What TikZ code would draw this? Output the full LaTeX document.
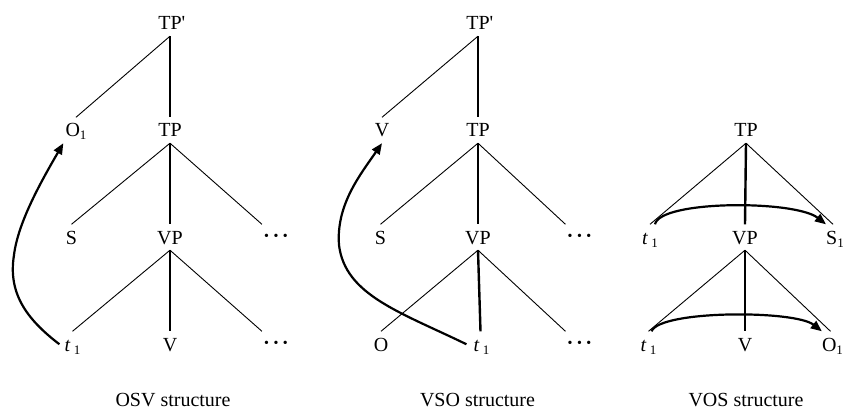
\documentclass[tikz,border=0pt]{standalone}
\usepackage{fontspec}
\setmainfont{Liberation Serif}
\usetikzlibrary{arrows.meta}
% lowered subscript "1"
\newcommand\lowone{\raisebox{-3pt}{\fontsize{13}{13}\selectfont 1}}
\newcommand\trace{\textit{t}\,\lowone}
% three spaced heavy dots
\newcommand\heavydots{\raisebox{4pt}{\fontsize{14}{14}\selectfont\textbullet\hspace{4.5pt}\textbullet\hspace{4.5pt}\textbullet}}
\begin{document}
\begin{tikzpicture}[x=1pt,y=-1pt,
  lbl/.style={font=\fontsize{20}{24}\selectfont, text height=13.5pt, text depth=0pt,
              inner xsep=2pt, inner ysep=6pt, anchor=base},
  caption/.style={font=\fontsize{20}{24}\selectfont, anchor=base, inner sep=0pt},
  branch/.style={line width=0.9pt},
  stem/.style={line width=2.4pt},
  move/.style={line width=2.2pt, -{Triangle[length=11pt,width=9pt]}}]
\useasboundingbox (0,0) rectangle (844,409);

% ---------- OSV ----------
\node[lbl] (a-tpp) at (170,30)  {TP\rlap{\textquotesingle}};
\node[lbl] (a-o)   at (76,137)  {O\lowone};
\node[lbl] (a-tp)  at (170,137) {TP};
\node[lbl] (a-s)   at (71.5,244) {S};
\node[lbl] (a-vp)  at (170,244) {VP};
\node[lbl] (a-d1)  at (276,244) {\heavydots};
\node[lbl] (a-t)   at (72.5,351) {\trace};
\node[lbl] (a-v)   at (170,351) {V};
\node[lbl] (a-d2)  at (276,351) {\heavydots};
\node[caption] (a-cap) at (173,406) {OSV structure};

\draw[branch] (a-tpp.south) -- (a-o.north);
\draw[stem]   (a-tpp.south) -- (a-tp.north);
\draw[branch] (a-tp.south) -- (a-s.north);
\draw[stem]   (a-tp.south) -- (a-vp.north);
\draw[branch] (a-tp.south) -- (a-d1.north west);
\draw[branch] (a-vp.south) -- (a-t.north);
\draw[stem]   (a-vp.south) -- (a-v.north);
\draw[branch] (a-vp.south) -- (a-d2.north west);
\draw[move] ([xshift=-3pt]a-t.west) .. controls (25,318) and (8,292) .. (14,255)
            .. controls (18,222) and (42,180) .. (a-o.south west);

% ---------- VSO ----------
\node[lbl] (b-tpp) at (478,30)  {TP\rlap{\textquotesingle}};
\node[lbl] (b-v)   at (382,137) {V};
\node[lbl] (b-tp)  at (478,137) {TP};
\node[lbl] (b-s)   at (380.5,244) {S};
\node[lbl] (b-vp)  at (478,244) {VP};
\node[lbl] (b-d1)  at (579.5,244) {\heavydots};
\node[lbl] (b-o)   at (381,351) {O};
\node[lbl] (b-t)   at (481.5,351) {\trace};
\node[lbl] (b-d2)  at (579.5,351) {\heavydots};
\node[caption] (b-cap) at (477.5,406) {VSO structure};

\draw[branch] (b-tpp.south) -- (b-v.north);
\draw[stem]   (b-tpp.south) -- (b-tp.north);
\draw[branch] (b-tp.south) -- (b-s.north);
\draw[stem]   (b-tp.south) -- (b-vp.north);
\draw[branch] (b-tp.south) -- (b-d1.north west);
\draw[branch] (b-vp.south) -- (b-o.north);
\draw[stem]   (b-vp.south) -- ([xshift=-1pt]b-t.north);
\draw[branch] (b-vp.south) -- (b-d2.north west);
\draw[move] ([xshift=-5pt]b-t.west) .. controls (400,312) and (345,295) .. (339,245)
            .. controls (336,205) and (360,175) .. (b-v.south);

% ---------- VOS ----------
\node[lbl] (c-tp)  at (746,137) {TP};
\node[lbl] (c-t1)  at (650,244) {\trace};
\node[lbl] (c-vp)  at (745,244) {VP};
\node[lbl] (c-s)   at (835,244) {S\lowone};
\node[lbl] (c-t2)  at (648.5,351) {\trace};
\node[lbl] (c-v)   at (745,351) {V};
\node[lbl] (c-o)   at (832.5,351) {O\lowone};
\node[caption] (c-cap) at (746,406) {VOS structure};

\draw[branch] (c-tp.south) -- (c-t1.north);
\draw[stem]   (c-tp.south) -- (c-vp.north);
\draw[branch] (c-tp.south) -- ([xshift=-2pt]c-s.north);
\draw[branch] (c-vp.south) -- (c-t2.north);
\draw[stem]   (c-vp.south) -- (c-v.north);
\draw[branch] (c-vp.south) -- ([xshift=-2pt]c-o.north);
\draw[move] ([xshift=5pt]c-t1.north) .. controls (660,200) and (795,200) .. ([xshift=2pt]c-s.north west);
\draw[move] ([xshift=3pt]c-t2.north) .. controls (660,310) and (795,310) .. ([xshift=2pt]c-o.north west);
\end{tikzpicture}
\end{document}
